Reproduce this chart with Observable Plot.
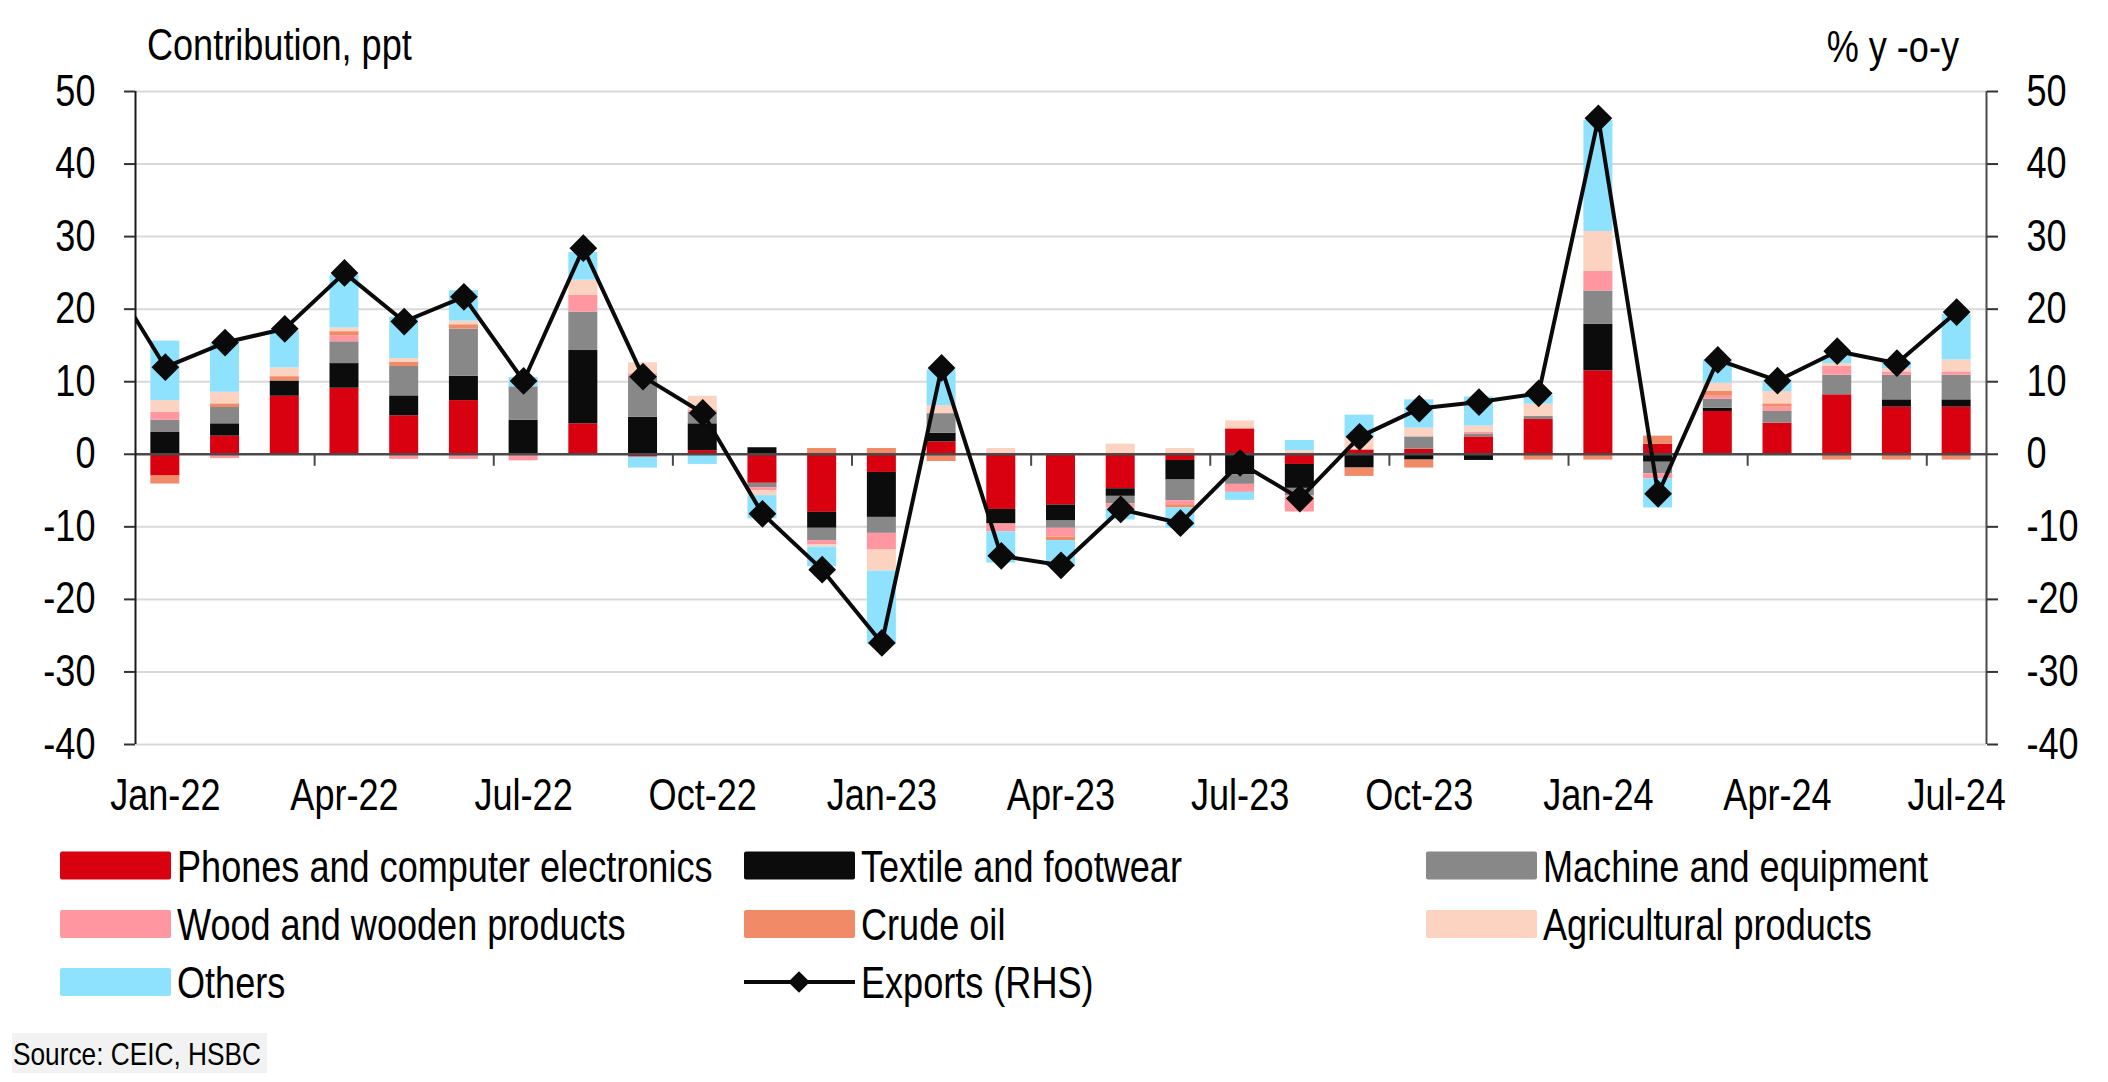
<!DOCTYPE html>
<html>
<head>
<meta charset="utf-8">
<script src="https://cdn.jsdelivr.net/npm/d3@7"></script>
<script src="https://cdn.jsdelivr.net/npm/@observablehq/plot@0.6"></script>
<style>
  html, body { margin: 0; padding: 0; background: #fff; }
  #wrap { position: relative; width: 2108px; height: 1082px; overflow: hidden; background: #fff; }
  #wrap svg { position: absolute; left: 0; top: 0; }
</style>
</head>
<body>
<div id="wrap"></div>
<script>
// ---------------- DATA ----------------
const months = ["Jan-22","Feb-22","Mar-22","Apr-22","May-22","Jun-22","Jul-22","Aug-22","Sep-22","Oct-22","Nov-22","Dec-22",
                "Jan-23","Feb-23","Mar-23","Apr-23","May-23","Jun-23","Jul-23","Aug-23","Sep-23","Oct-23","Nov-23","Dec-23",
                "Jan-24","Feb-24","Mar-24","Apr-24","May-24","Jun-24","Jul-24"];

const series = ["Phones and computer electronics","Textile and footwear","Machine and equipment",
                "Wood and wooden products","Crude oil","Agricultural products","Others"];
const seriesColors = ["#d9000f","#0c0c0c","#888888","#ff96a0","#f08a67","#fbd3c0","#8fe2fe"];

const phones  = [-3.0, 2.5, 8.0, 9.1, 5.3, 7.4, 0.1, 4.2,-0.4, 0.5,-4.0,-8.0,-2.5, 1.7,-7.6,-7.0,-4.75,-0.85, 3.5,-1.4, 0.6, 0.7, 2.4, 4.8,11.5, 1.4, 5.9, 4.3, 8.2, 6.5, 6.5];
const textile = [ 3.0, 1.7, 2.1, 3.4, 2.75,3.35,4.6,10.1, 5.1, 3.7, 0.9,-2.2,-6.2, 1.2,-2.0,-2.2,-1.05,-2.7,-2.8,-3.3,-1.9,-0.8,-0.85,0.0, 6.4,-1.1, 0.45,0.0, 0.0, 1.0, 1.0];
const machine = [ 1.7, 2.25,0.0, 3.0, 4.05,6.5, 4.6, 5.3, 5.6, 1.6,-0.6,-1.7,-2.2, 2.7, 0.0,-1.0,-1.05,-2.85,-1.35,-1.0,0.0, 1.7, 0.4, 0.4, 4.6,-1.6, 1.25,1.6, 2.7, 3.4, 3.4];
const wood    = [ 1.1,-0.6, 0.0, 0.8,-0.7,-0.7,-0.9, 2.3, 0.4, 0.3,-0.4,-0.6,-2.3, 0.0,-1.1,-1.2,-0.6,-0.55,-1.1,-2.25,0.0, 0.0, 0.2, 0.0, 2.7,-0.7, 0.4, 0.6, 1.2, 0.45,0.45];
const crude   = [-1.1, 0.5, 0.6, 0.6, 0.6, 0.6, 0.0, 0.0, 0.0, 0.0, 0.0, 0.8, 0.8,-1.0, 0.0,-0.5, 0.0,-0.45, 0.0, 0.0,-1.15,-1.1,0.0,-0.8,-0.8, 1.1, 0.7, 0.45,-0.8,-0.8,-0.8];
const agri    = [ 1.6, 1.6, 1.2, 0.5, 0.5, 0.5, 0.0, 2.1, 1.5, 1.9,-0.7,-0.3,-2.9, 1.1, 0.8, 0.0, 1.4, 0.8, 1.1, 0.5, 1.6, 1.2, 0.9, 1.7, 5.5, 0.0, 1.1, 1.7, 0.4, 0.45,1.65];
const others  = [ 8.2, 6.7, 5.1, 7.3, 5.7, 4.2, 1.3, 3.8,-1.5,-1.4,-3.2,-2.7,-10.1,4.9,-4.3,-3.6,-1.6,-2.8,-1.1, 1.4, 3.2, 3.9, 4.0, 1.2,15.3,-4.0, 3.2, 1.5, 1.0, 1.0, 6.3];

const exportsPrev = 25.4;   // Dec-21, only visible as the line entering from the left edge
const exportsYoY = [12.0,15.4,17.3,25.0,18.3,21.7,10.1,28.4,10.7, 5.7,-8.2,-15.9,-26.0,11.9,-14.0,-15.3,-7.6,-9.5,-1.2,-6.1, 2.4, 6.3, 7.2, 8.4,46.3,-5.45,13.0,10.15,14.2,12.55,19.6];

const yTicks = [-40,-30,-20,-10,0,10,20,30,40,50];
const titleLeft = "Contribution, ppt";
const titleRight = "% y -o-y";
const lineLabel = "Exports (RHS)";
const sourceText = "Source: CEIC, HSBC";

// ---------------- FONT ----------------
function probeWidth(font) {
  const c = document.createElement("canvas").getContext("2d");
  c.font = font;
  return c.measureText("Phones and computer electronics 0123").width;
}
const narrowOK = probeWidth('44px "Liberation Sans Narrow", monospace') !== probeWidth("44px monospace");
const FF = narrowOK ? '"Liberation Sans Narrow", "Arial Narrow", sans-serif' : '"Liberation Sans", Arial, sans-serif';
const SQUEEZE = narrowOK ? 1 : 0.82;

// ---------------- TABLES ----------------
const valuesBySeries = [phones, textile, machine, wood, crude, agri, others];
const bars = months.flatMap((m, i) => series.map((s, k) => ({i, s, v: valuesBySeries[k][i]})));
const linePts = [{i: -1, v: exportsPrev}, ...exportsYoY.map((v, i) => ({i, v}))];
const labelTicks = months.map((m, i) => i).filter(i => i % 3 === 0);
// small ticks on the zero line sit between the last month of a quarter and the next
const quarterBounds = months.map((m, i) => i).filter(i => i % 3 === 2 && i < months.length - 1).map(i => i + 0.5);
const xMin = -0.5, xMax = months.length - 0.5;

const W = 2108, H = 830;
const step = (W - 135 - 122) / months.length;
const barW = 29;
const inset = (step - barW) / 2;

const chart = Plot.plot({
  width: W, height: H,
  marginTop: 91, marginBottom: 86, marginLeft: 135, marginRight: 122,
  x: {domain: [xMin, xMax], label: null},
  y: {domain: [-40, 50], label: null},
  color: {domain: series, range: seriesColors},
  style: {fontFamily: FF, fontSize: "44px", color: "#000", background: "transparent", overflow: "visible"},
  marks: [
    Plot.gridY(yTicks.filter(t => t !== 0), {stroke: "#d9d9d9", strokeOpacity: 1, strokeWidth: 2}),
    Plot.rectY(bars, {x1: d => d.i - 0.5, x2: d => d.i + 0.5, y: "v", fill: "s", insetLeft: inset, insetRight: inset}),
    Plot.ruleY([0], {stroke: "#4a4a4a", strokeWidth: 2.5}),
    Plot.ruleX(quarterBounds, {y1: 0, y2: 0, insetBottom: -12, stroke: "#4a4a4a", strokeWidth: 2}),
    Plot.ruleX([xMin], {stroke: "#1a1a1a", strokeWidth: 2}),
    Plot.ruleX([xMax], {stroke: "#4a4a4a", strokeWidth: 2}),
    Plot.axisY(yTicks, {anchor: "left", tickSize: 11, tickPadding: 29, stroke: "#333", strokeWidth: 2, tickFormat: d => String(d), label: null}),
    Plot.axisY(yTicks, {anchor: "right", tickSize: 11, tickPadding: 29, stroke: "#333", strokeWidth: 2, tickFormat: d => String(d), label: null}),
    Plot.axisX(labelTicks, {anchor: "bottom", tickSize: 0, tickPadding: 34, tickFormat: i => months[i], label: null}),
    Plot.line(linePts, {x: "i", y: "v", stroke: "#0a0a0a", strokeWidth: 4, clip: true}),
    Plot.dot(linePts.filter(d => d.i >= 0), {x: "i", y: "v", symbol: "diamond2", r: 12.5, fill: "#0a0a0a"})
  ]
});

const wrap = document.getElementById("wrap");
wrap.appendChild(chart);

// ---------------- OVERLAY: titles, legend, source ----------------
const ov = d3.create("svg")
  .attr("width", W).attr("height", 1082)
  .style("font-family", FF).style("overflow", "visible");

ov.append("text").attr("x", 147).attr("y", 60).attr("font-size", 44).attr("fill", "#000").text(titleLeft);
ov.append("text").attr("x", 1959).attr("y", 62).attr("font-size", 44).attr("fill", "#000").attr("text-anchor", "end").text(titleRight);

const colX = [60, 744, 1426];
const rowBase = [881.5, 940, 998];
const legendItems = series.map((s, k) => ({type: "swatch", label: s, color: seriesColors[k]}));
legendItems.splice(7, 0, {type: "line", label: lineLabel});
legendItems.forEach((it, n) => {
  const col = n % 3, row = Math.floor(n / 3);
  const x = colX[col], b = rowBase[row];
  const g = ov.append("g");
  if (it.type === "swatch") {
    g.append("rect").attr("x", x).attr("y", b - 30).attr("width", 111).attr("height", 28).attr("rx", 2).attr("fill", it.color);
  } else {
    g.append("line").attr("x1", x).attr("x2", x + 111).attr("y1", b - 16).attr("y2", b - 16).attr("stroke", "#0a0a0a").attr("stroke-width", 4);
    g.append("path").attr("transform", `translate(${x + 55},${b - 16})`)
      .attr("d", d3.symbol(d3.symbolDiamond2, 300)()).attr("fill", "#0a0a0a");
  }
  g.append("text").attr("x", x + 117).attr("y", b).attr("font-size", 44).attr("fill", "#000").text(it.label);
});

ov.append("rect").attr("x", 12).attr("y", 1033).attr("width", 255).attr("height", 40).attr("fill", "#f2f2f2");
ov.append("text").attr("x", 13).attr("y", 1065).attr("font-size", 32).attr("fill", "#000").text(sourceText);

wrap.appendChild(ov.node());

// If no narrow face is installed, condense the regular face to the narrow width.
if (SQUEEZE < 1) {
  wrap.querySelectorAll("text").forEach(t => {
    const L = t.getComputedTextLength();
    if (L > 0) {
      t.setAttribute("textLength", (L * SQUEEZE).toFixed(2));
      t.setAttribute("lengthAdjust", "spacingAndGlyphs");
    }
  });
}
</script>
</body>
</html>
